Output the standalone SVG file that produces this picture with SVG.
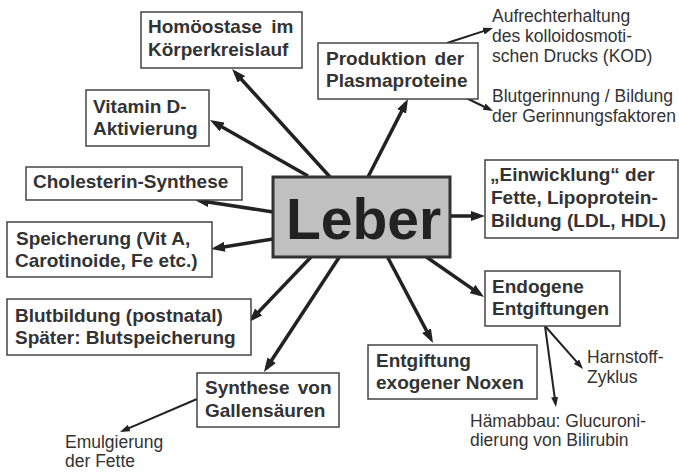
<svg xmlns="http://www.w3.org/2000/svg" width="679" height="472" viewBox="0 0 679 472">
<defs>
<style>
.box rect{fill:#fff;stroke:#444;stroke-width:1.5}
.bt{font-family:"Liberation Sans",Arial,sans-serif;font-weight:bold;font-size:19px;fill:#333}
.st{font-family:"Liberation Sans",Arial,sans-serif;font-size:17.5px;fill:#333}
.main{stroke:#222;stroke-width:3.5;fill:none;marker-end:url(#ah)}
.sub{stroke:#222;stroke-width:2;fill:none;marker-end:url(#ahs)}
</style>
<marker id="ah" markerUnits="userSpaceOnUse" markerWidth="14" markerHeight="10" refX="9" refY="5" orient="auto">
<path d="M0,0 L14,5 L0,10 z" fill="#222"/>
</marker>
<marker id="ahs" markerUnits="userSpaceOnUse" markerWidth="10" markerHeight="7" refX="6.5" refY="3.5" orient="auto">
<path d="M0,0 L10,3.5 L0,7 z" fill="#222"/>
</marker>
</defs>
<rect width="679" height="472" fill="#fff"/>
<g id="connectors">
<line class="main" x1="330" y1="177" x2="235.4" y2="72.7"/>
<line class="main" x1="308" y1="176" x2="214.3" y2="122.5"/>
<line class="main" x1="273" y1="212" x2="199.9" y2="200.8"/>
<line class="main" x1="273" y1="239" x2="215.9" y2="248.2"/>
<line class="main" x1="312" y1="256" x2="252.5" y2="318.4"/>
<line class="main" x1="340" y1="256" x2="266.7" y2="367.8"/>
<line class="main" x1="387" y1="256" x2="430.7" y2="338.6"/>
<line class="main" x1="425" y1="256" x2="479.9" y2="294.1"/>
<line class="main" x1="450" y1="216" x2="480" y2="216"/>
<line class="main" x1="368" y1="177" x2="405.7" y2="103.4"/>
<line class="sub" x1="447" y1="43" x2="489.7" y2="29.1"/>
<line class="sub" x1="460" y1="95" x2="489.9" y2="109.5"/>
<line class="sub" x1="545" y1="326" x2="580.7" y2="366.4"/>
<line class="sub" x1="545" y1="326" x2="555.5" y2="403.5"/>
<line class="sub" x1="197" y1="399" x2="123.2" y2="430.6"/>
</g>
<g id="leber">
<rect x="273" y="177" width="177" height="80" fill="#c0c0c0" stroke="#333" stroke-width="3"/>
<text x="286" y="239" font-family="'Liberation Sans',Arial,sans-serif" font-weight="bold" font-size="57" fill="#222">Leber</text>
</g>
<g id="homoeostase" class="box">
<rect x="141" y="12" width="161" height="56"/>
<text class="bt" x="148" y="33" word-spacing="4">Homöostase im</text>
<text class="bt" x="148" y="56">Körperkreislauf</text>
</g>
<g id="produktion" class="box">
<rect x="318" y="43" width="160" height="56"/>
<text class="bt" x="326" y="65" word-spacing="3">Produktion der</text>
<text class="bt" x="326" y="87">Plasmaproteine</text>
</g>
<g id="vitamind" class="box">
<rect x="86" y="90" width="123" height="56"/>
<text class="bt" x="93" y="113">Vitamin D-</text>
<text class="bt" x="93" y="135">Aktivierung</text>
</g>
<g id="cholesterin" class="box">
<rect x="26" y="167" width="216" height="33"/>
<text class="bt" x="33" y="188">Cholesterin-Synthese</text>
</g>
<g id="speicherung" class="box">
<rect x="7" y="222" width="205" height="55"/>
<text class="bt" x="16" y="245">Speicherung (Vit A,</text>
<text class="bt" x="15" y="267">Carotinoide, Fe etc.)</text>
</g>
<g id="blutbildung" class="box">
<rect x="7" y="299" width="244" height="56"/>
<text class="bt" x="15" y="322">Blutbildung (postnatal)</text>
<text class="bt" x="15" y="344">Später: Blutspeicherung</text>
</g>
<g id="gallensaeuren" class="box">
<rect x="197" y="373" width="142" height="54"/>
<text class="bt" x="205" y="394" word-spacing="3">Synthese von</text>
<text class="bt" x="205" y="417">Gallensäuren</text>
</g>
<g id="exogen" class="box">
<rect x="368" y="345" width="169" height="54"/>
<text class="bt" x="376" y="367">Entgiftung</text>
<text class="bt" x="376" y="389">exogener Noxen</text>
</g>
<g id="endogen" class="box">
<rect x="485" y="271" width="135" height="55"/>
<text class="bt" x="492" y="293">Endogene</text>
<text class="bt" x="492" y="315">Entgiftungen</text>
</g>
<g id="einwicklung" class="box">
<rect x="485" y="160" width="193" height="78"/>
<text class="bt" x="490" y="181">„Einwicklung“ der</text>
<text class="bt" x="491" y="204">Fette, Lipoprotein-</text>
<text class="bt" x="491" y="227">Bildung (LDL, HDL)</text>
</g>
<g id="kod">
<text class="st" x="492" y="22">Aufrechterhaltung</text>
<text class="st" x="492" y="42">des kolloidosmoti-</text>
<text class="st" x="492" y="62">schen Drucks (KOD)</text>
</g>
<g id="gerinnung">
<text class="st" x="492" y="102">Blutgerinnung / Bildung</text>
<text class="st" x="492" y="122">der Gerinnungsfaktoren</text>
</g>
<g id="harnstoff">
<text class="st" x="587" y="363">Harnstoff-</text>
<text class="st" x="587" y="383">Zyklus</text>
</g>
<g id="haemabbau">
<text class="st" x="470" y="427">Hämabbau: Glucuroni-</text>
<text class="st" x="470" y="446">dierung von Bilirubin</text>
</g>
<g id="emulgierung">
<text class="st" x="65" y="448">Emulgierung</text>
<text class="st" x="65" y="467">der Fette</text>
</g>
</svg>
